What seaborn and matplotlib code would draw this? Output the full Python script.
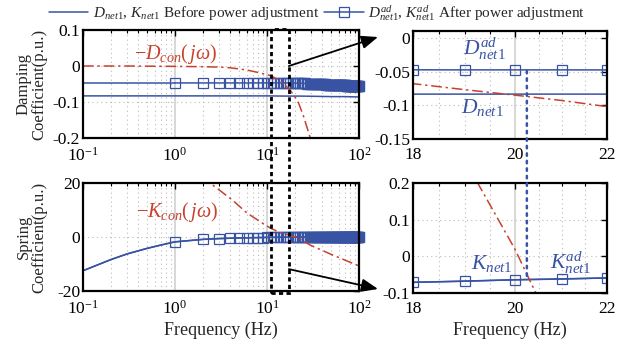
import numpy as np
import matplotlib
matplotlib.use("Agg")
import matplotlib.pyplot as plt
import matplotlib.ticker as mticker
import matplotlib.transforms as mtransforms
from matplotlib.patches import Rectangle, ConnectionPatch
from matplotlib.lines import Line2D
import seaborn as sns

# ---- data ----
# frequencies of the "before" curves (Hz)
f_before = [0.1, 0.2, 0.3, 0.5, 0.7, 1, 2, 3, 5, 7, 10, 15, 18, 20, 22, 30, 50, 70, 100]
d_net1 = [-0.083, -0.083, -0.083, -0.083, -0.083, -0.083, -0.083, -0.083, -0.083, -0.083,
          -0.083, -0.0835, -0.0835, -0.0835, -0.0835, -0.084, -0.085, -0.085, -0.086]
k_net1 = [-12.5, -8.4, -6.3, -4.2, -3.0, -1.8, -0.9, -0.6, -0.36, -0.26,
          -0.16, -0.09, -0.071, -0.064, -0.059, -0.044, -0.03, -0.021, -0.015]

# "after" curves, line starts at 0.1 Hz, markers at every integer Hz
f_after_low = [0.1, 0.2, 0.3, 0.5, 0.7]
d_ad_low = [-0.047, -0.047, -0.047, -0.047, -0.047]
k_ad_low = [-12.5, -8.4, -6.3, -4.2, -3.0]
f_marks = list(range(1, 101))
d_ad = [-0.047, -0.047, -0.047, -0.047, -0.047, -0.047, -0.047, -0.047, -0.047, -0.047,
        -0.047, -0.047, -0.047, -0.047, -0.047, -0.047, -0.047, -0.0475, -0.0476, -0.0476,
        -0.0476, -0.0477, -0.048, -0.048, -0.0485, -0.0485, -0.049, -0.049, -0.049, -0.049,
        -0.0495, -0.0495, -0.0495, -0.05, -0.05, -0.05, -0.0505, -0.0505, -0.0505, -0.051,
        -0.051, -0.051, -0.0512, -0.0514, -0.0515, -0.0516, -0.0517, -0.0518, -0.0519, -0.052,
        -0.052, -0.0521, -0.0522, -0.0523, -0.0524, -0.0525, -0.0526, -0.0527, -0.0528, -0.053,
        -0.053, -0.0532, -0.0533, -0.0534, -0.0535, -0.0536, -0.0537, -0.0538, -0.0539, -0.054,
        -0.054, -0.0541, -0.0542, -0.0543, -0.0544, -0.0545, -0.0546, -0.0547, -0.0548, -0.0549,
        -0.055, -0.055, -0.0551, -0.0552, -0.0553, -0.0554, -0.0555, -0.0555, -0.0556, -0.0556,
        -0.0557, -0.0557, -0.0558, -0.0558, -0.0559, -0.0559, -0.056, -0.056, -0.056, -0.056]
k_ad = [-1.8, -0.9, -0.6, -0.45, -0.36, -0.3, -0.26, -0.22, -0.2, -0.16,
        -0.14, -0.125, -0.11, -0.1, -0.09, -0.083, -0.077, -0.071, -0.068, -0.064,
        -0.062, -0.059, -0.057, -0.055, -0.053, -0.051, -0.049, -0.047, -0.046, -0.044,
        -0.043, -0.042, -0.041, -0.04, -0.039, -0.038, -0.037, -0.036, -0.035, -0.034,
        -0.034, -0.033, -0.032, -0.032, -0.031, -0.031, -0.03, -0.03, -0.03, -0.03,
        -0.029, -0.029, -0.028, -0.028, -0.027, -0.027, -0.027, -0.026, -0.026, -0.026,
        -0.025, -0.025, -0.025, -0.024, -0.024, -0.024, -0.023, -0.023, -0.023, -0.022,
        -0.022, -0.022, -0.021, -0.021, -0.021, -0.02, -0.02, -0.02, -0.02, -0.019,
        -0.019, -0.019, -0.018, -0.018, -0.018, -0.018, -0.017, -0.017, -0.017, -0.017,
        -0.016, -0.016, -0.016, -0.016, -0.016, -0.015, -0.015, -0.015, -0.015, -0.015]

# controller terms (red dash-dot)
f_dcon = [0.1, 0.3, 1, 2, 3, 4, 6, 8, 10, 11, 12, 15, 18, 19, 20, 21, 22, 25, 30, 40]
d_con = [0.0, 0.0, -0.001, -0.002, -0.003, -0.005, -0.011, -0.018, -0.024, -0.027,
         -0.032, -0.048, -0.068, -0.077, -0.085, -0.093, -0.102, -0.14, -0.205, -0.35]
f_kcon = [2.0, 2.4, 3, 4.2, 6, 8.4, 11, 14, 17.3, 18, 19, 20, 21, 22, 29.5, 52, 98, 100]
k_con = [23.0, 20.0, 17.5, 13.7, 9.0, 5.7, 3.2, 1.6, 0.74, 0.53, 0.26, 0.02, -0.25, -0.5,
         -3.0, -6.7, -10.6, -10.8]

# tick values / labels
left_xticks = [0.1, 1, 10, 100]
d_yticks = [0.1, 0, -0.1, -0.2]
d_ylabels = ["0.1", "0", "-0.1", "-0.2"]
k_yticks = [20, 0, -20]
k_ylabels = ["20", "0", "-20"]
right_xticks = [18, 20, 22]
right_xlabels = ["18", "20", "22"]
dz_yticks = [0, -0.05, -0.1, -0.15]
dz_ylabels = ["0", "-0.05", "-0.1", "-0.15"]
kz_yticks = [0.2, 0.1, 0, -0.1]
kz_ylabels = ["0.2", "0.1", "0", "-0.1"]

blue = "#3853a4"
red = "#c8412e"

sns.set_theme(style="white")
plt.rcParams["font.family"] = ["Liberation Serif", "DejaVu Serif"]
plt.rcParams["mathtext.fontset"] = "custom"
plt.rcParams["mathtext.rm"] = "Liberation Serif"
plt.rcParams["mathtext.it"] = "Liberation Serif:italic"
plt.rcParams["axes.unicode_minus"] = False

fig = plt.figure(figsize=(6.34, 3.44), dpi=100)
ax_d = fig.add_axes([0.1309, 0.5988, 0.4353, 0.3140])
ax_k = fig.add_axes([0.1309, 0.1541, 0.4353, 0.3140])
ax_dz = fig.add_axes([0.6514, 0.5959, 0.3060, 0.3140])
ax_kz = fig.add_axes([0.6514, 0.1483, 0.3060, 0.3198])

mk = dict(marker="s", markersize=7, markerfacecolor="none",
          markeredgecolor=blue, markeredgewidth=0.9)


def draw(ax, before_y, after_low, after_y, f_con, con_y, clip):
    sns.lineplot(x=f_before, y=before_y, ax=ax, color=blue, lw=1.1, sort=True)
    sns.lineplot(x=f_after_low + [1], y=after_low + [after_y[0]], ax=ax,
                 color=blue, lw=1.1)
    sns.lineplot(x=f_marks, y=after_y, ax=ax, color=blue, lw=1.1, clip_on=clip, **mk)
    sns.lineplot(x=f_con, y=con_y, ax=ax, color=red, lw=1.1, linestyle=(0, (7, 2.5, 1.5, 2.5)))


draw(ax_d, d_net1, d_ad_low, d_ad, f_dcon, d_con, False)
draw(ax_k, k_net1, k_ad_low, k_ad, f_kcon, k_con, False)
draw(ax_dz, d_net1, d_ad_low, d_ad, f_dcon, d_con, True)
draw(ax_kz, k_net1, k_ad_low, k_ad, f_kcon, k_con, True)

for ax in (ax_d, ax_k, ax_dz, ax_kz):
    ax.set_xscale("log")
    for s in ax.spines.values():
        s.set_color("black")
        s.set_linewidth(1.6)
    ax.tick_params(which="both", direction="in", top=True, right=True,
                   colors="black", labelsize=12.5)
    ax.tick_params(axis="y", pad=2)
    ax.tick_params(axis="x", pad=6)
    ax.tick_params(which="major", length=4, width=1)
    ax.tick_params(which="minor", length=2, width=0.8)
    ax.grid(which="minor", axis="x", color="#bbbbbb", linestyle=(0, (1, 3)), lw=0.8)
    ax.grid(which="major", axis="x", color="#d4d4d4", linestyle="-", lw=1.3)
    ax.grid(which="major", axis="y", color="#bbbbbb", linestyle=(0, (1, 3)), lw=0.8)
    ax.set_axisbelow(True)

for ax in (ax_d, ax_k):
    ax.set_xlim(0.1, 100)
    ax.set_xticks(left_xticks)
    ax.xaxis.set_major_formatter(mticker.LogFormatterSciNotation())
    ax.xaxis.set_minor_locator(mticker.LogLocator(subs=np.arange(2, 10)))
    ax.xaxis.set_minor_formatter(mticker.NullFormatter())

ax_d.set_ylim(-0.2, 0.1)
ax_d.set_yticks(d_yticks)
ax_d.set_yticklabels(d_ylabels)
ax_k.set_ylim(-20, 20)
ax_k.set_yticks(k_yticks)
ax_k.set_yticklabels(k_ylabels)

for ax in (ax_dz, ax_kz):
    ax.set_xlim(18, 22)
    ax.set_xticks(right_xticks)
    ax.set_xticklabels(right_xlabels)
    ax.xaxis.set_minor_locator(mticker.FixedLocator([18.5, 19, 19.5, 20.5, 21, 21.5]))
    ax.xaxis.set_minor_formatter(mticker.NullFormatter())

ax_dz.set_ylim(-0.15, 0.01)
ax_dz.set_yticks(dz_yticks)
ax_dz.set_yticklabels(dz_ylabels)
ax_kz.set_ylim(-0.1, 0.2)
ax_kz.set_yticks(kz_yticks)
ax_kz.set_yticklabels(kz_ylabels)

ax_d.set_ylabel("Damping\nCoefficient(p.u.)", fontsize=12, linespacing=1.0)
ax_k.set_ylabel("Spring\nCoefficient(p.u.)", fontsize=12, linespacing=1.0)
ax_d.yaxis.set_label_coords(-0.128, 0.5)
ax_k.yaxis.set_label_coords(-0.128, 0.5)
ax_k.set_xlabel("Frequency (Hz)", fontsize=13, labelpad=3)
ax_kz.set_xlabel("Frequency (Hz)", fontsize=13, labelpad=3)
ax_d.set_xlabel("")
ax_dz.set_xlabel("")

# annotations
ax_d.text(1.03, 0.033, r"$-D_{con}(\,j\omega)$", color=red, fontsize=14.5, ha="center", va="center")
ax_k.text(1.05, 9.4, r"$-K_{con}(\,j\omega)$", color=red, fontsize=14.5, ha="center", va="center")
ax_dz.text(19.39, -0.016, r"$D^{ad}_{net1}$", color=blue, fontsize=15.5, ha="center", va="center")
ax_dz.text(19.35, -0.104, r"$D_{net1}$", color=blue, fontsize=15.5, ha="center", va="center")
ax_kz.text(19.53, -0.02, r"$K_{net1}$", color=blue, fontsize=15.5, ha="center", va="center")
ax_kz.text(21.2, -0.016, r"$K^{ad}_{net1}$", color=blue, fontsize=15.5, ha="center", va="center")

# zoom window (dotted rectangle) spanning both left panels
f_lo, f_hi = 11.0, 17.3
trans = mtransforms.blended_transform_factory(ax_d.transData, fig.transFigure)
y_top = 1 - 29 / 344
y_bot = 1 - 293 / 344
rect = Rectangle((f_lo, y_bot), f_hi - f_lo, y_top - y_bot, transform=trans,
                 fill=False, ec="black", lw=2, linestyle=(0, (1.5, 1.2)), zorder=10)
fig.add_artist(rect)

arr = dict(arrowstyle="-|>,head_length=1.0,head_width=0.4", color="black", lw=1.3,
           mutation_scale=10, zorder=11)
fig.add_artist(ConnectionPatch(xyA=(f_hi, 0.0), coordsA=ax_d.transData,
                               xyB=(378 / 634, 1 - 37 / 344), coordsB="figure fraction", **arr))
fig.add_artist(ConnectionPatch(xyA=(f_hi, -11.9), coordsA=ax_k.transData,
                               xyB=(378 / 634, 1 - 289 / 344), coordsB="figure fraction", **arr))

# blue dotted marker line between zoomed panels
fig.add_artist(ConnectionPatch(xyA=(20.25, -0.049), coordsA=ax_dz.transData,
                               xyB=(20.25, -0.064), coordsB=ax_kz.transData,
                               color=blue, lw=1.8, linestyle=(0, (1, 2)), zorder=11))

handles = [Line2D([], [], color=blue, lw=1.1),
           Line2D([], [], color=blue, lw=1.1, **mk)]
labels = [r"$D_{net1}$, $K_{net1}$ Before power adjustment",
          r"$D^{ad}_{net1}$, $K^{ad}_{net1}$ After power adjustment"]
fig.legend(handles, labels, loc="center", bbox_to_anchor=(0.5, 1 - 13 / 344), ncol=2,
           frameon=False, fontsize=11, handlelength=2.6, handletextpad=0.3,
           columnspacing=0.3, borderaxespad=0)

fig.savefig("out.png", dpi=100)
